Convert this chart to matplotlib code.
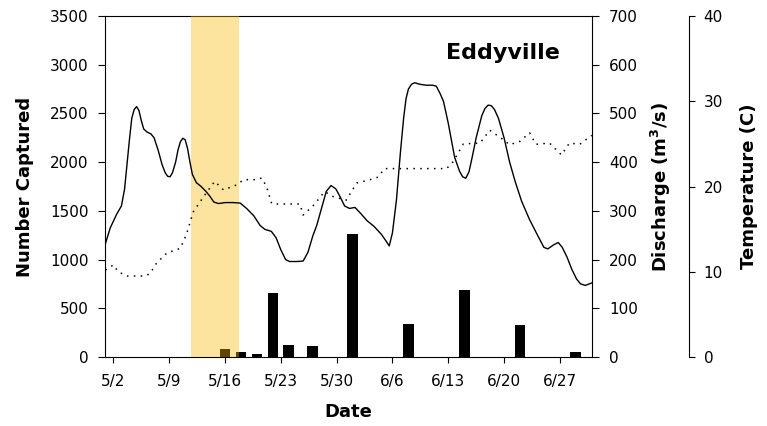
import matplotlib
matplotlib.use('Agg')
import matplotlib.pyplot as plt

plt.rcParams['font.family'] = 'DejaVu Sans'
plt.rcParams['font.size'] = 11

# x positions are day of May (6/1 = 32, 7/1 = 62)
tick_days = [2, 9, 16, 23, 30, 37, 44, 51, 58]
tick_labels = ['5/2', '5/9', '5/16', '5/23', '5/30', '6/6', '6/13', '6/20', '6/27']

# fish captured per sampling day
catch_days = [16, 18, 20, 22, 24, 27, 32, 39, 46, 53, 60]
catch_counts = [80, 50, 30, 655, 120, 115, 1260, 340, 690, 330, 55]

# river discharge (m3/s)
flow_days = [1.0, 1.6, 2.4, 3.0, 3.4, 3.7, 4.0, 4.3, 4.6, 4.9, 5.2, 5.5, 5.8,
             6.2, 6.7, 7.1, 7.6, 8.1, 8.5, 8.8, 9.1, 9.4, 9.8, 10.1, 10.4,
             10.7, 11.0, 11.3, 11.6, 11.9, 12.4, 13.0, 13.6, 14.1, 14.6,
             15.2, 16.0, 17.0, 17.9, 18.7, 19.6, 20.4, 21.0, 21.8, 22.4,
             23.0, 23.6, 24.1, 25.0, 25.8, 26.4, 27.0, 27.5, 28.1, 28.7,
             29.3, 29.9, 30.4, 31.0, 31.6, 32.3, 33.0, 33.8, 34.7, 35.6,
             36.2, 36.6, 37.0, 37.5, 38.0, 38.4, 38.7, 39.0, 39.4, 39.8,
             40.4, 41.2, 42.0, 42.5, 43.0, 43.4, 44.0, 44.8, 45.4, 45.8,
             46.2, 46.6, 47.0, 47.5, 48.2, 48.6, 49.0, 49.4, 49.8, 50.3,
             51.0, 51.7, 52.4, 53.2, 54.2, 55.2, 56.0, 56.5, 57.2, 57.8,
             58.3, 58.9, 59.5, 60.1, 60.6, 61.2, 62.0]
flow_cms = [233, 265, 293, 310, 345, 395, 445, 490, 508, 514, 506, 485, 468,
            462, 458, 450, 425, 395, 378, 371, 370, 378, 400, 425, 442,
            449, 446, 428, 400, 375, 358, 350, 340, 330, 318,
            315, 317, 317, 316, 305, 290, 270, 262, 258, 245,
            220, 200, 196, 196, 197, 215, 248, 270, 305, 340,
            352, 345, 330, 310, 305, 307, 295, 280, 268, 252,
            238, 228, 255, 322, 420, 490, 530, 550, 560, 563,
            560, 558, 558, 556, 540, 525, 480, 410, 382, 370,
            367, 380, 410, 450, 495, 510, 517, 516, 508, 490,
            450, 400, 360, 320, 282, 250, 225, 222, 230, 235,
            225, 205, 180, 160, 150, 147, 152]

# water temperature (C)
temp_days = [1.0, 2.0, 2.6, 3.7, 6.0, 6.6, 7.4, 8.7, 10.4, 11.2, 12.0, 13.3,
             14.7, 15.8, 17.5, 18.3, 20.0, 20.6, 21.2, 21.85, 22.5, 25.4,
             25.8, 27.1, 28.5, 29.6, 31.2, 32.5, 34.2, 35.2, 36.0, 43.8,
             44.6, 45.9, 48.0, 49.2, 50.9, 51.7, 53.0, 54.2, 55.0, 56.7,
             58.2, 59.2, 60.5, 62.0]
temp_c = [10.2, 10.8, 10.0, 9.5, 9.5, 9.8, 11.0, 12.2, 12.75, 14.5, 17.0, 18.8,
          20.6, 19.6, 20.2, 20.8, 20.8, 21.0, 20.0, 18.0, 17.95, 17.95,
          16.65, 17.8, 19.4, 18.8, 18.4, 20.4, 20.8, 21.1, 22.1, 22.1,
          22.9, 25.0, 25.1, 26.6, 25.5, 24.9, 25.3, 26.3, 24.95, 25.1,
          23.7, 25.1, 24.95, 26.0]

# highlighted period
shade_start, shade_end = 11.75, 17.75

fig = plt.figure(figsize=(7.67, 4.26), dpi=100)
ax = fig.add_subplot(111)
fig.subplots_adjust(left=0.1375, right=0.7715, bottom=0.162, top=0.9624)

ax.bar(catch_days, catch_counts, width=1.34, color='black', zorder=2)
ax.axvspan(shade_start, shade_end, color=(0.98, 0.72, 0.0), alpha=0.38,
           lw=0, zorder=3)

ax.set_xlim(1, 62)
ax.set_ylim(0, 3500)
ax.set_yticks(range(0, 3501, 500))
ax.set_xticks(tick_days)
ax.set_xticklabels(tick_labels)
ax.tick_params(axis='y', direction='out', length=5, pad=7, labelsize=11)
ax.tick_params(axis='x', direction='out', length=4, pad=8, labelsize=11)
ax.spines['right'].set_visible(False)
ax.set_xlabel('Date', fontsize=13, fontweight='bold')
ax.set_ylabel('Number Captured', fontsize=13, fontweight='bold')
ax.xaxis.label.set_va('center')
ax.xaxis.set_label_coords(0.5, -0.161)
ax.yaxis.label.set_va('center')
ax.yaxis.set_label_coords(-0.166, 0.5)

ax.text(0.8175, 0.891, 'Eddyville', transform=ax.transAxes, fontsize=16,
        fontweight='bold', ha='center', va='center')

# discharge axis
ax2 = ax.twinx()
ax2.plot(flow_days, flow_cms, color='black', lw=1.0)
ax2.set_ylim(0, 700)
ax2.set_yticks(range(0, 701, 100))
ax2.tick_params(axis='y', direction='out', length=5, pad=7.5, labelsize=11)
for side in ['top', 'left', 'bottom']:
    ax2.spines[side].set_visible(False)
ax2.set_ylabel(r'Discharge (m$^{\mathbf{3}}$/s)', fontsize=13, fontweight='bold')
ax2.yaxis.label.set_va('center')
ax2.yaxis.set_label_coords(1.142, 0.5)

# temperature axis
ax3 = ax.twinx()
ax3.spines['right'].set_position(('axes', 1.2))
ax3.plot(temp_days, temp_c, color='black', lw=1.1, linestyle=(0, (1, 3.5)))
ax3.set_ylim(0, 40)
ax3.set_yticks(range(0, 41, 10))
ax3.tick_params(axis='y', direction='out', length=4, pad=6.5, labelsize=11)
for side in ['top', 'left', 'bottom']:
    ax3.spines[side].set_visible(False)
ax3.set_ylabel('Temperature (C)', fontsize=13, fontweight='bold')
ax3.yaxis.label.set_va('center')
ax3.yaxis.set_label_coords(1.3235, 0.5)
ax3.set_xlim(1, 62)

fig.savefig('out.png', dpi=100)
